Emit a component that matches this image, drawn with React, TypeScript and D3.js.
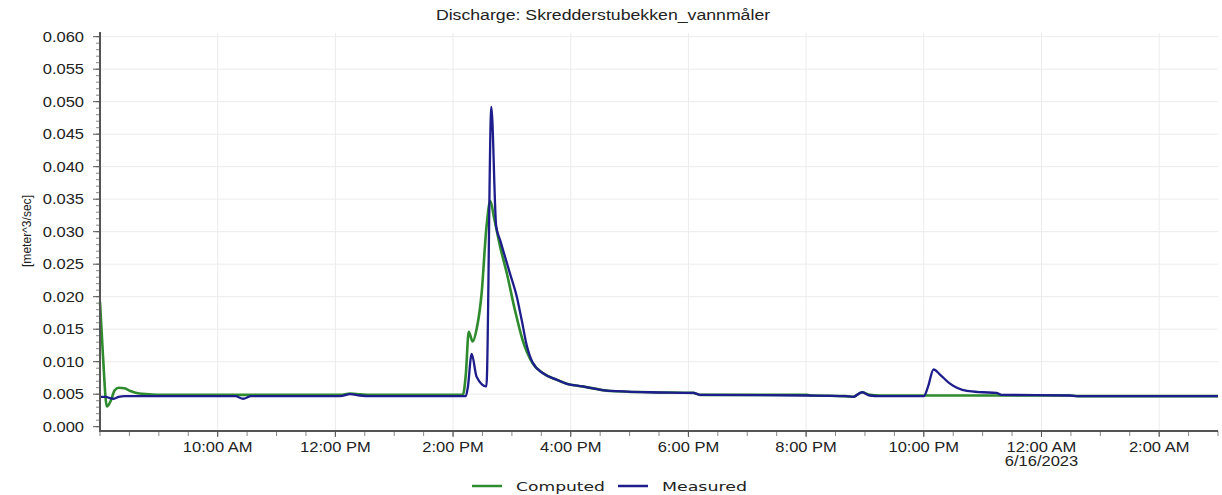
import React from "react";
import * as d3 from "d3";

// Discharge series for Skredderstubekken, 15–16 June 2023
const computedTimes = [
  "2023-06-15 08:00", "2023-06-15 08:03", "2023-06-15 08:07", "2023-06-15 08:11",
  "2023-06-15 08:15", "2023-06-15 08:19", "2023-06-15 08:25", "2023-06-15 08:31",
  "2023-06-15 08:40", "2023-06-15 08:50", "2023-06-15 09:00", "2023-06-15 12:05",
  "2023-06-15 12:15", "2023-06-15 12:25", "2023-06-15 12:35", "2023-06-15 14:10",
  "2023-06-15 14:13", "2023-06-15 14:16", "2023-06-15 14:20", "2023-06-15 14:24",
  "2023-06-15 14:29", "2023-06-15 14:34", "2023-06-15 14:38", "2023-06-15 14:42",
  "2023-06-15 14:48", "2023-06-15 14:55", "2023-06-15 15:03", "2023-06-15 15:11",
  "2023-06-15 15:21", "2023-06-15 15:32", "2023-06-15 15:46", "2023-06-15 15:56",
  "2023-06-15 16:12", "2023-06-15 16:40", "2023-06-15 17:21", "2023-06-15 18:05",
  "2023-06-15 18:12", "2023-06-15 20:01", "2023-06-15 20:05", "2023-06-15 20:40",
  "2023-06-15 20:48", "2023-06-15 20:57", "2023-06-15 21:05", "2023-06-15 21:15",
  "2023-06-16 00:29", "2023-06-16 00:37", "2023-06-16 03:00",
];
const computedValues = [
  0.0192, 0.011, 0.0031, 0.004,
  0.0056, 0.006, 0.0059, 0.0055,
  0.0051, 0.005, 0.0049, 0.0049,
  0.0051, 0.005, 0.0049, 0.0049,
  0.008, 0.0146, 0.0131, 0.015,
  0.0203, 0.0306, 0.0347, 0.032,
  0.0277, 0.0235, 0.018, 0.0133,
  0.0098, 0.0082, 0.0072, 0.0066,
  0.0062, 0.0055, 0.0053, 0.0052,
  0.0049, 0.0049, 0.0048, 0.0047,
  0.0046, 0.0053, 0.0049, 0.0048,
  0.0048, 0.0047, 0.0047,
];

const measuredTimes = [
  "2023-06-15 08:00", "2023-06-15 08:06", "2023-06-15 08:10", "2023-06-15 08:14",
  "2023-06-15 08:19", "2023-06-15 08:25", "2023-06-15 10:18", "2023-06-15 10:26",
  "2023-06-15 10:34", "2023-06-15 12:05", "2023-06-15 12:15", "2023-06-15 12:25",
  "2023-06-15 12:35", "2023-06-15 14:13", "2023-06-15 14:15", "2023-06-15 14:19",
  "2023-06-15 14:24", "2023-06-15 14:34", "2023-06-15 14:39", "2023-06-15 14:44",
  "2023-06-15 14:48", "2023-06-15 14:58", "2023-06-15 15:05", "2023-06-15 15:10",
  "2023-06-15 15:15", "2023-06-15 15:21", "2023-06-15 15:32", "2023-06-15 15:46",
  "2023-06-15 15:56", "2023-06-15 16:12", "2023-06-15 16:40", "2023-06-15 17:21",
  "2023-06-15 18:05", "2023-06-15 18:12", "2023-06-15 20:01", "2023-06-15 20:40",
  "2023-06-15 20:48", "2023-06-15 20:57", "2023-06-15 21:05", "2023-06-15 21:15",
  "2023-06-15 22:00", "2023-06-15 22:04", "2023-06-15 22:10", "2023-06-15 22:16",
  "2023-06-15 22:26", "2023-06-15 22:44", "2023-06-15 23:00", "2023-06-15 23:14",
  "2023-06-15 23:19", "2023-06-16 00:29", "2023-06-16 00:37", "2023-06-16 03:00",
];
const measuredValues = [
  0.0046, 0.0046, 0.0044, 0.0043,
  0.0046, 0.0047, 0.0047, 0.0043,
  0.0047, 0.0047, 0.005, 0.0048,
  0.0047, 0.0047, 0.006, 0.0112,
  0.0077, 0.0062, 0.0492, 0.0308,
  0.0287, 0.0236, 0.02, 0.0164,
  0.0126, 0.0099, 0.0082, 0.0072,
  0.0066, 0.0062, 0.0055, 0.0053,
  0.0052, 0.0049, 0.0048, 0.0047,
  0.0046, 0.0053, 0.0048, 0.0047,
  0.0047, 0.006, 0.0088, 0.0081,
  0.0067, 0.0055, 0.0053, 0.0052,
  0.0049, 0.0048, 0.0047, 0.0047,
];

const yTickValues = [0, 0.005, 0.01, 0.015, 0.02, 0.025, 0.03, 0.035, 0.04, 0.045, 0.05, 0.055, 0.06];
const xTickTimes = [
  "2023-06-15 10:00", "2023-06-15 12:00", "2023-06-15 14:00", "2023-06-15 16:00",
  "2023-06-15 18:00", "2023-06-15 20:00", "2023-06-15 22:00", "2023-06-16 00:00", "2023-06-16 02:00",
];
const xTickLabels = ["10:00 AM", "12:00 PM", "2:00 PM", "4:00 PM", "6:00 PM", "8:00 PM", "10:00 PM", "12:00 AM", "2:00 AM"];
const xTickSubLabels = ["", "", "", "", "", "", "", "6/16/2023", ""];
const seriesNames = ["Computed", "Measured"];
const seriesColors = ["#2e8b2e", "#1d1d8c"];

const parse = d3.timeParse("%Y-%m-%d %H:%M");
const FONT = "'Liberation Sans', Arial, sans-serif";
const SX = 1.18;

function Label({ x, y, anchor, size, children, color = "#222" }: any) {
  return (
    <g transform={`translate(${x},${y}) scale(${SX},1)`}>
      <text x={0} y={0} textAnchor={anchor} fontFamily={FONT} fontSize={size} fill={color}>
        {children}
      </text>
    </g>
  );
}

export default function App() {
  const width = 1222;
  const height = 495;
  const left = 100;
  const right = 1218;
  const axisY = 431;

  const x = d3
    .scaleTime()
    .domain([parse("2023-06-15 08:00")!, parse("2023-06-16 03:00")!])
    .range([left, right]);
  const y = d3.scaleLinear().domain([0, 0.06]).range([426.7, 36.7]);

  const computed = computedTimes.map((t, i) => ({ t: parse(t)!, v: computedValues[i] }));
  const measured = measuredTimes.map((t, i) => ({ t: parse(t)!, v: measuredValues[i] }));
  const line = d3
    .line<{ t: Date; v: number }>()
    .x((d) => x(d.t))
    .y((d) => y(d.v))
    .curve(d3.curveMonotoneX);

  const minorX = d3.timeMinute.every(30)!.range(x.domain()[0], new Date(+x.domain()[1] + 1));
  const minorY = d3.range(0, 61).map((k) => k / 1000);
  const majorX = xTickTimes.map((t) => parse(t)!);

  return (
    <svg width={width} height={height} style={{ display: "block", position: "absolute", left: 0, top: 0 }}>
      <rect width={width} height={height} fill="#fff" />
      {/* title */}
      <Label x={603} y={20} anchor="middle" size={15}>
        Discharge: Skredderstubekken_vannmåler
      </Label>

      {/* grid */}
      {yTickValues.slice(1).map((v) => (
        <line key={"gy" + v} x1={left} x2={right} y1={y(v)} y2={y(v)} stroke="#ececec" strokeWidth={1} />
      ))}
      {majorX.map((t, i) => (
        <line key={"gx" + i} x1={x(t)} x2={x(t)} y1={33} y2={axisY} stroke="#ececec" strokeWidth={1} />
      ))}

      {/* y axis */}
      {minorY.map((v) => (
        <line key={"my" + v} x1={96} x2={100} y1={y(v)} y2={y(v)} stroke="#888" strokeWidth={1} />
      ))}
      {yTickValues.map((v) => (
        <g key={"ty" + v}>
          <line x1={93} x2={100} y1={y(v)} y2={y(v)} stroke="#555" strokeWidth={1} />
          <Label x={84} y={y(v) + 5} anchor="end" size={14}>
            {d3.format(".3f")(v)}
          </Label>
        </g>
      ))}
      <text
        transform="translate(31,231) rotate(-90)"
        textAnchor="middle"
        fontFamily={FONT}
        fontSize={13}
        fill="#222"
        textLength={72}
        lengthAdjust="spacingAndGlyphs"
      >
        [meter^3/sec]
      </text>

      {/* x axis */}
      {minorX.map((t, i) => (
        <line key={"mx" + i} x1={x(t)} x2={x(t)} y1={axisY} y2={axisY + 5} stroke="#888" strokeWidth={1} />
      ))}
      {majorX.map((t, i) => (
        <g key={"tx" + i}>
          <line x1={x(t)} x2={x(t)} y1={axisY} y2={axisY + 6} stroke="#555" strokeWidth={1} />
          <Label x={x(t)} y={452} anchor="middle" size={14}>
            {xTickLabels[i]}
          </Label>
          {xTickSubLabels[i] && (
            <Label x={x(t)} y={466} anchor="middle" size={14}>
              {xTickSubLabels[i]}
            </Label>
          )}
        </g>
      ))}

      {/* series */}
      <path d={line(computed)!} fill="none" stroke={seriesColors[0]} strokeWidth={2.6} strokeLinejoin="round" />
      <path d={line(measured)!} fill="none" stroke={seriesColors[1]} strokeWidth={2.3} strokeLinejoin="round" />

      {/* axis lines */}
      <line x1={left} x2={left} y1={32} y2={axisY + 1} stroke="#555" strokeWidth={2} />
      <line x1={left - 1} x2={right} y1={axisY} y2={axisY} stroke="#555" strokeWidth={2} />

      {/* legend */}
      {seriesNames.map((name, i) => {
        const lx = [472, 618][i];
        const tl = [89, 85][i];
        return (
          <g key={name}>
            <line x1={lx} x2={lx + 30} y1={486} y2={486} stroke={seriesColors[i]} strokeWidth={2.5} />
            <text
              x={lx + 44}
              y={491}
              fontFamily="'DejaVu Sans', Verdana, sans-serif"
              fontSize={13}
              fill="#222"
              textLength={tl}
              lengthAdjust="spacingAndGlyphs"
            >
              {name}
            </text>
          </g>
        );
      })}
    </svg>
  );
}
